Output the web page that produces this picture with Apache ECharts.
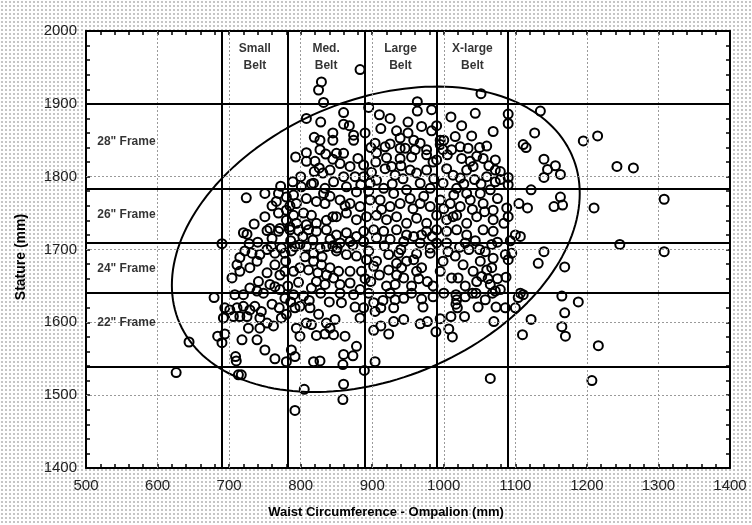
<!DOCTYPE html>
<html><head><meta charset="utf-8">
<script src="https://cdn.jsdelivr.net/npm/echarts@6/dist/echarts.min.js"></script>
<style>
html,body{margin:0;padding:0;width:752px;height:525px;overflow:hidden;
background-color:#fff;
background-image:radial-gradient(circle, #c4c4c4 0.7px, transparent 1px);
background-size:4px 4px;position:relative;}
#plotbg{position:absolute;left:86px;top:31px;width:644px;height:437px;background:#fff;}
#c{position:absolute;left:0;top:0;width:752px;height:525px;}
</style></head><body><div id="plotbg"></div><div id="c"></div>
<script>
// Axis tick labels
const xTickLabels = [500,600,700,800,900,1000,1100,1200,1300,1400];
const yTickLabels = [1400,1500,1600,1700,1800,1900,2000];

// Belt boundaries (waist, mm) and frame boundaries (stature, mm)
const beltBounds = [690,782,889,990,1090];
const beltNames = ['Small\nBelt','Med.\nBelt','Large\nBelt','X-large\nBelt'];
const frameBounds = [1539,1641,1709,1783,1900];
const frameNames = ['28" Frame','26" Frame','24" Frame','22" Frame'];
const frameLabelY = [1848,1748,1673,1600];

// Ellipse parameters (centre, conjugate semi-diameters)
const ellipseCenter = [905,1714];
const ellipseAxisA = [285,63];
const ellipseAxisB = [0,200];

// Subjects: [waist circumference, stature]
const subjectsLeft = [[626,1531],[644,1573],[679,1634],[690,1708],[684,1581],[694,1584],[690,1572],[709,1553],[710,1547],[713,1528],[717,1528],[792,1479],[805,1508]];
const subjectsUpperLeft = [[829,1930],[825,1919],[832,1902],[808,1880],[828,1875],[819,1854],[827,1850],[808,1833],[793,1827],[808,1821],[820,1821],[827,1837],[835,1831],[819,1807],[831,1805],[789,1793],[772,1787],[801,1786],[818,1791],[834,1784],[724,1771],[750,1777],[769,1777],[766,1766],[780,1772],[790,1775],[794,1763],[808,1770],[822,1766],[834,1763],[832,1777],[769,1750],[780,1754],[790,1747],[804,1750],[815,1747],[794,1736],[808,1734],[822,1736],[836,1740],[757,1729],[771,1729],[785,1731]];
const subjectsUpperMid = [[883,1947],[963,1903],[963,1890],[983,1892],[1052,1914],[860,1888],[860,1872],[910,1885],[1010,1882],[1044,1887],[874,1857],[874,1850],[912,1866],[934,1863],[939,1853],[969,1869],[983,1863],[995,1850],[1016,1855],[1039,1856],[1069,1862],[850,1832],[860,1832],[904,1846],[918,1841],[906,1833],[939,1839],[946,1839],[958,1850],[967,1846],[960,1837],[976,1837],[976,1830],[995,1844],[999,1837],[1011,1837],[1023,1841],[1034,1839],[1060,1842],[1072,1823],[1046,1828],[1037,1821],[1041,1814],[939,1825],[927,1814],[918,1811],[932,1802],[953,1809],[962,1805],[976,1809],[990,1823],[1004,1811],[1013,1802],[1023,1798],[1032,1809],[1060,1800],[1072,1809],[1072,1793],[841,1809],[855,1818],[869,1814],[876,1800],[888,1816],[888,1800],[860,1800],[846,1793],[864,1786],[878,1779],[897,1791],[906,1795],[916,1784],[930,1777],[948,1782],[967,1791],[981,1784],[999,1791],[1018,1784],[1032,1777],[1051,1777],[1065,1782],
[841,1773],[855,1768],[869,1763],[883,1759],[897,1768],[911,1768],[925,1759],[939,1763],[953,1770],[967,1763],[981,1759],[995,1768],[1009,1763],[1023,1759],[1037,1768],[1055,1763],[1069,1754],
[850,1745],[864,1750],[878,1741],[892,1745],[906,1747],[920,1741],[934,1745],[948,1736],[962,1743],[976,1736],[990,1747],[1004,1741],[1018,1747],[1032,1736],[1046,1745],[1069,1741]];
const subjectsCore = [[850,1720],[864,1723],[878,1718],[888,1725],[902,1727],[916,1725],[934,1727],[948,1720],[958,1718],[969,1720],[976,1725],[990,1727],[1004,1725],[1018,1727],[1032,1720],[1055,1727],[1069,1725],
[990,1709],[981,1702],[1004,1709],[1030,1709],[1067,1707],[967,1709],[944,1711],[925,1714],[906,1716],[888,1711],[869,1711],[855,1709],[841,1714],
[850,1698],[864,1693],[878,1691],[892,1686],[906,1684],[923,1693],[937,1695],[948,1684],[958,1686],[969,1675],[981,1695],[999,1684],[1016,1691],[1027,1679],[1041,1670],[1051,1684],[1060,1672],[1069,1688],[1067,1675],[1053,1663],[1046,1656],[1065,1652],[1072,1643],[1011,1661],[1020,1661],[995,1670],[962,1670],[941,1675],[923,1672],[902,1677],[885,1670],[869,1670],[853,1670],[841,1675],[846,1661],[934,1681],
[826,1812],[845,1824],[862,1760],[884,1789],[899,1806],[913,1755],[928,1790],[943,1797],[957,1756],[972,1773],[986,1797],[1000,1756],[1014,1775],[1028,1790],[1043,1796],[1057,1752],[851,1702],[873,1706],[895,1698],[917,1705],[940,1700],[962,1694],[984,1718],[1006,1697],[1022,1703],[1044,1712],[1058,1697],[830,1690],[845,1745],[1075,1770],[985,1820],[955,1827],[920,1826],[1000,1850],[1055,1825],[1052,1790],[1040,1755],[1013,1745],[880,1825],[898,1840]];
const subjectsDense = [[786,1712],[803,1718],[817,1713],[779,1684],[806,1690],[824,1668],[797,1655],[782,1650],[748,1640],[760,1625],[745,1615],[770,1620],[786,1628],[812,1630],[828,1640],[840,1628],[855,1640],[890,1660],[910,1665],[920,1650],[955,1650],[965,1660],[985,1650],[1000,1640],[1030,1650],[1040,1640],[985,1635],[955,1640],[895,1640],[915,1630],[845,1850],[868,1870],[890,1860],[905,1820],[925,1845],[950,1860],[895,1780],[940,1815],[1025,1825],[1050,1840],[1063,1815],[1005,1830],[1025,1870],[990,1870],[950,1875],[925,1880],[895,1895],[845,1860],[815,1790],[800,1800],[785,1760],[760,1760],[750,1745],[735,1735],[740,1710],[728,1708],[760,1715],[780,1740],[845,1705],[1035,1700],[1050,1700],[1075,1710],[1062,1660],[1045,1640],[1030,1635],[1075,1660]];
const subjectsLowerMid = [[1065,1523],[859,1494],[860,1515],[889,1534],[904,1546],[859,1542],[860,1556],[873,1554],[878,1567],[862,1581],[846,1583],[841,1592],[902,1589],[912,1595],[923,1584],[930,1601],[944,1604],[967,1598],[977,1601],[989,1587],[995,1605],[1007,1591],[1012,1580],[1010,1608],[1029,1608],[1070,1601],[883,1606],[848,1604],[904,1615],[912,1620],[930,1620],[944,1633],[932,1631],[902,1627],[925,1640],[969,1632],[971,1621],[1017,1638],[1018,1631],[1017,1625],[1019,1620],[1048,1621],[1058,1631],[1068,1640],[1073,1621],[977,1656],[898,1656],[944,1661],[934,1665],[932,1652],[855,1652],[869,1654],[883,1645],[874,1638],[888,1620],[876,1621],[857,1627]];
const subjectsUpperRight = [[1135,1890],[1090,1886],[1090,1873],[1127,1860],[1111,1844],[1115,1840],[1195,1849],[1215,1856],[1140,1824],[1156,1815],[1145,1810],[1163,1803],[1140,1799],[1242,1814],[1265,1812],[1079,1807],[1090,1799],[1090,1789],[1079,1796],[1122,1782],[1163,1772],[1105,1763],[1117,1757],[1154,1759],[1166,1761],[1210,1757],[1308,1769],[1088,1757],[1090,1745],[1084,1736]];
const subjectsLowerRight = [[1100,1720],[1107,1718],[1093,1712],[1086,1693],[1095,1695],[1090,1686],[1140,1697],[1246,1707],[1308,1697],[1132,1681],[1169,1676],[1087,1662],[1079,1645],[1107,1640],[1111,1638],[1104,1634],[1165,1636],[1188,1628],[1086,1620],[1100,1620],[1122,1604],[1169,1613],[1165,1594],[1110,1583],[1170,1581],[1216,1568],[1207,1520]];
const subjectsLowerLeft = [[720,1723],[725,1721],[753,1726],[769,1725],[785,1727],[797,1726],[811,1727],[822,1725],[836,1727],
[715,1689],[711,1679],[722,1698],[732,1695],[743,1693],[753,1700],[759,1704],[764,1695],[773,1702],[778,1695],[787,1698],[792,1704],[799,1707],[808,1704],[818,1695],[827,1702],[836,1704],
[704,1661],[715,1670],[729,1675],[739,1684],[741,1656],[753,1668],[764,1679],[771,1665],[778,1670],[790,1670],[799,1675],[811,1672],[818,1684],[829,1679],[836,1665],
[708,1638],[720,1638],[729,1647],[739,1643],[757,1652],[764,1649],[771,1645],[778,1633],[790,1638],[804,1636],[815,1647],[822,1656],[834,1652],
[694,1620],[701,1617],[711,1620],[720,1622],[729,1617],[736,1622],[725,1608],[715,1608],[706,1608],[692,1606],[743,1606],[753,1599],[762,1595],[773,1606],[780,1611],[792,1620],[799,1622],[813,1620],[825,1611],[836,1599],[808,1599],[815,1597],
[727,1592],[743,1592],[718,1576],[739,1576],[750,1562],[764,1550],[780,1546],[794,1592],[799,1581],[787,1562],[792,1553],[822,1582],[834,1584],[818,1546],[827,1547]];

const subjects = [].concat(subjectsLeft, subjectsUpperLeft, subjectsUpperMid, subjectsCore, subjectsDense,
  subjectsLowerMid, subjectsUpperRight, subjectsLowerRight, subjectsLowerLeft);

// Ellipse outline from its parameters
const ellipse = [];
for (let i = 0; i <= 180; i++) {
  const t = i / 180 * Math.PI * 2;
  ellipse.push([ellipseCenter[0] + ellipseAxisA[0]*Math.cos(t) + ellipseAxisB[0]*Math.sin(t),
                ellipseCenter[1] + ellipseAxisA[1]*Math.cos(t) + ellipseAxisB[1]*Math.sin(t)]);
}

const FONT = "'Liberation Sans', Arial, sans-serif";
const xMin = xTickLabels[0], xMax = xTickLabels[xTickLabels.length-1];
const yMin = yTickLabels[0], yMax = yTickLabels[yTickLabels.length-1];
const plain = v => String(v);

function mkAxis(min, max, pos, showLabel, margin) {
  return {
    type:'value', min:min, max:max, interval:100, position:pos,
    axisLine:{show:true, onZero:false, lineStyle:{color:'#000', width:2}},
    axisTick:{show:true, inside:true, length:4, lineStyle:{color:'#000', width:1.5}},
    minorTick:{show:true, splitNumber:5, length:4, lineStyle:{color:'#000', width:1.5}},
    axisLabel:{show:showLabel, color:'#222', fontSize:15, margin:margin, fontFamily:FONT, formatter:plain},
    splitLine:{show:false},
    minorSplitLine:{show:false}
  };
}

// dotted grid lines at the inner tick labels
const gridX = xTickLabels.slice(1, -1).map(v => ({xAxis:v}));
const gridY = yTickLabels.slice(1, -1).map(v => ({yAxis:v}));

const chart = echarts.init(document.getElementById('c'), null, {renderer:'canvas'});
chart.setOption({
  animation:false,
  backgroundColor:'transparent',
  grid:{left:86, top:31, right:22, bottom:57, show:false, containLabel:false},
  xAxis:[mkAxis(xMin, xMax, 'bottom', true, 10), mkAxis(xMin, xMax, 'top', false, 8)],
  yAxis:[mkAxis(yMin, yMax, 'left', true, 9), mkAxis(yMin, yMax, 'right', false, 8)],
  graphic:[
    {type:'text', style:{text:'Waist Circumference - Ompalion (mm)', x:386, y:512, textAlign:'center', textVerticalAlign:'middle', font:"bold 13px "+FONT, fill:'#000'}},
    {type:'text', x:21, y:257, rotation:Math.PI/2, style:{text:'Stature (mm)', x:0, y:0, textAlign:'center', textVerticalAlign:'middle', font:"bold 14px "+FONT, fill:'#000'}}
  ],
  series:[
    {
      type:'line', data:[], silent:true, z:1,
      markLine:{
        silent:true, symbol:['none','none'], label:{show:false},
        lineStyle:{color:'#9a9a9a', type:[2,2], width:1},
        data: gridX.concat(gridY)
      }
    },
    {
      type:'line', data:ellipse, showSymbol:false, symbol:'none', smooth:false, silent:true, z:3,
      lineStyle:{color:'#000', width:2},
      markLine:{
        silent:true, symbol:['none','none'], label:{show:false},
        lineStyle:{color:'#000', type:'solid', width:2},
        data: beltBounds.map(v => ({xAxis:v})).concat(frameBounds.map(v => ({yAxis:v})))
      }
    },
    {
      type:'scatter', data:subjects, symbol:'circle', symbolSize:9, z:4,
      itemStyle:{color:'rgba(0,0,0,0)', borderColor:'#000', borderWidth:2, opacity:1}
    },
    {
      type:'scatter', symbolSize:1, silent:true, z:5, itemStyle:{color:'rgba(0,0,0,0)'},
      data: beltNames.map((n,i) => ({name:n, value:[(beltBounds[i]+beltBounds[i+1])/2, 1964]})),
      label:{show:true, position:'inside', formatter:'{b}', color:'#000', fontFamily:FONT, fontWeight:'bold', fontSize:12, lineHeight:17, align:'center', verticalAlign:'middle'}
    },
    {
      type:'scatter', symbolSize:1, silent:true, z:5, itemStyle:{color:'rgba(0,0,0,0)'},
      data: frameNames.map((n,i) => ({name:n, value:[515, frameLabelY[i]]})),
      label:{show:true, position:'right', distance:0, formatter:'{b}', color:'#000', fontFamily:FONT, fontWeight:'bold', fontSize:12}
    }
  ]
});
</script></body></html>
